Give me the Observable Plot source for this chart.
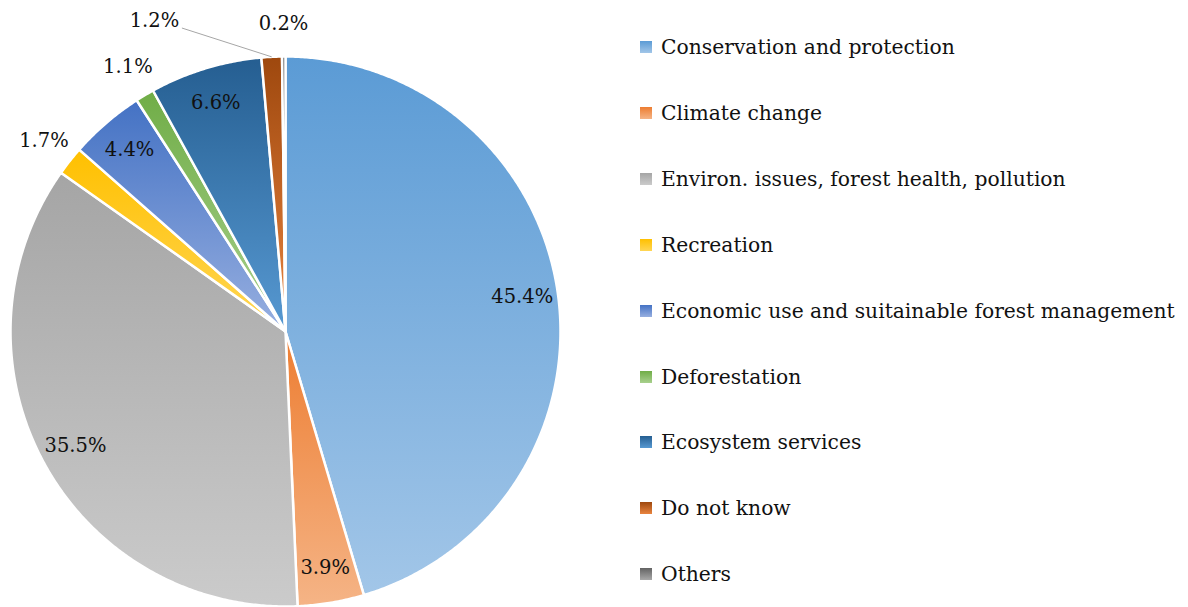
<!DOCTYPE html>
<html>
<head>
<meta charset="utf-8">
<script src="https://cdn.jsdelivr.net/npm/d3@7"></script>
<script src="https://cdn.jsdelivr.net/npm/@observablehq/plot@0.6"></script>
<style>
  html, body { margin: 0; padding: 0; background: #fff; }
  #wrap { position: relative; width: 1188px; height: 607px; overflow: hidden; }
  #wrap svg { position: absolute; left: 0; top: 0; }
  .legend { position: absolute; left: 640px; top: 0; font-family: "DejaVu Serif", serif; font-size: 20.3px; color: #111; }
  .row { position: absolute; left: 0; height: 30px; display: flex; align-items: center; white-space: nowrap; }
  .sw { width: 12px; height: 12px; margin-right: 9px; }
</style>
</head>
<body>
<div id="wrap"></div>
<script>
const categories = [
  "Conservation and protection",
  "Climate change",
  "Environ. issues, forest health, pollution",
  "Recreation",
  "Economic use and suitainable forest management",
  "Deforestation",
  "Ecosystem services",
  "Do not know",
  "Others"
];
const values = [45.4, 3.9, 35.5, 1.7, 4.4, 1.1, 6.6, 1.2, 0.2];
const labels = ["45.4%", "3.9%", "35.5%", "1.7%", "4.4%", "1.1%", "6.6%", "1.2%", "0.2%"];

// style: gradient top -> bottom colours per slice
const topColors = ["#5b9bd5", "#ed7d31", "#a5a5a5", "#ffc000", "#4472c4", "#70ad47", "#255e91", "#9e480e", "#636363"];
const bottomColors = ["#a2c6e8", "#f5b486", "#cbcbcb", "#ffd655", "#97afe0", "#a8d08d", "#5799d2", "#e9843f", "#a8a8a8"];

const font = "DejaVu Serif";

const pie = d3.pie().sort(null).value(d => d)(values);
const deg = Math.PI / 180;

// polygons for slices (angles from the data, radius 1 in data units)
function slicePoints(a0, a1) {
  const pts = [{x: 0, y: 0}];
  const n = Math.max(2, Math.ceil((a1 - a0) / (0.4 * deg)));
  for (let k = 0; k <= n; k++) {
    const a = a0 + (a1 - a0) * k / n;
    pts.push({x: Math.sin(a), y: Math.cos(a)});
  }
  return pts;
}

const sliceMarks = pie.map((p, i) =>
  Plot.line(slicePoints(p.startAngle, p.endAngle), {
    x: "x", y: "y", curve: "linear-closed",
    fill: `url(#grad${i})`, stroke: "#fff", strokeWidth: 2.5, strokeLinejoin: "round"
  })
);

// label placement: inside for larger slices, outside for small ones
const labelData = pie.map((p, i) => {
  let a = (p.startAngle + p.endAngle) / 2;
  let r = values[i] >= 3 ? 0.87 : 1.12;
  const nudged = categories[i] === "Do not know";
  if (nudged) { a -= 20 * deg; r = 1.226; }
  return {label: labels[i], x: r * Math.sin(a), y: r * Math.cos(a), nudged, mid: (p.startAngle + p.endAngle) / 2};
});

const leaders = labelData.filter(d => d.nudged).map(d => ({
  x1: d.x + 0.1, y1: d.y - 0.026,
  x2: Math.sin(d.mid) * 1.0, y2: Math.cos(d.mid) * 1.0
}));

const chart = Plot.plot({
  width: 1188,
  height: 607,
  margin: 0,
  x: {domain: [-1, 1], range: [10, 560], axis: null},
  y: {domain: [-1, 1], range: [606, 56], axis: null},
  style: {background: "transparent"},
  marks: [
    ...sliceMarks,
    Plot.link(leaders, {x1: "x1", y1: "y1", x2: "x2", y2: "y2", stroke: "#a6a6a6", strokeWidth: 1}),
    Plot.text(labelData, {x: "x", y: "y", text: "label", fontSize: 19.5, fontFamily: font, fill: "#111"})
  ]
});

// gradient defs
const svgNS = "http://www.w3.org/2000/svg";
const defs = document.createElementNS(svgNS, "defs");
topColors.forEach((c, i) => {
  const g = document.createElementNS(svgNS, "linearGradient");
  g.setAttribute("id", `grad${i}`);
  g.setAttribute("x1", "0"); g.setAttribute("y1", "0");
  g.setAttribute("x2", "0"); g.setAttribute("y2", "1");
  [[0, c], [1, bottomColors[i]]].forEach(([o, col]) => {
    const s = document.createElementNS(svgNS, "stop");
    s.setAttribute("offset", o);
    s.setAttribute("stop-color", col);
    g.appendChild(s);
  });
  defs.appendChild(g);
});
chart.insertBefore(defs, chart.firstChild);

const wrap = document.getElementById("wrap");
wrap.appendChild(chart);

// legend
const legend = document.createElement("div");
legend.className = "legend";
categories.forEach((c, i) => {
  const row = document.createElement("div");
  row.className = "row";
  row.style.top = (47 + i * 65.9 - 15) + "px";
  const sw = document.createElement("div");
  sw.className = "sw";
  sw.style.background = `linear-gradient(to bottom, ${topColors[i]}, ${bottomColors[i]})`;
  const t = document.createElement("span");
  t.textContent = c;
  row.appendChild(sw); row.appendChild(t);
  legend.appendChild(row);
});
wrap.appendChild(legend);
</script>
</body>
</html>
